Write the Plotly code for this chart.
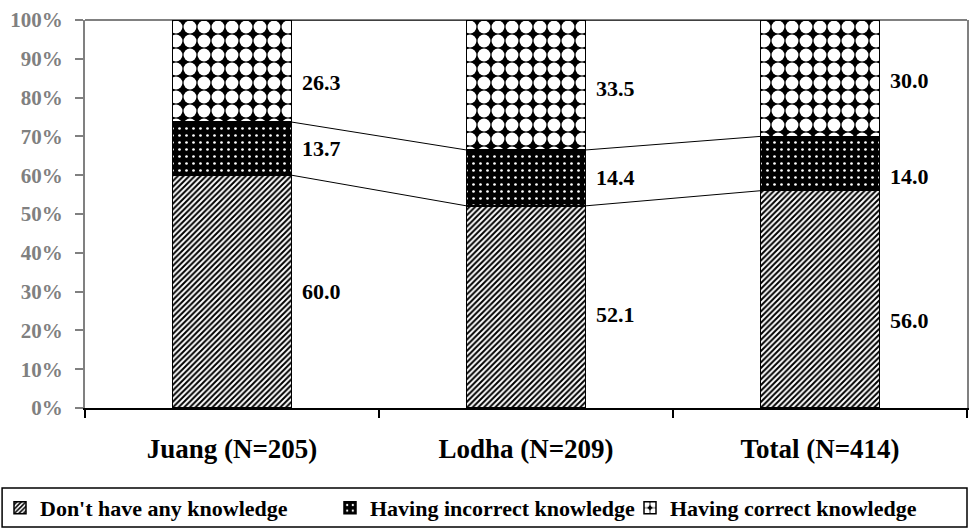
import plotly.graph_objects as go

categories = ["Juang (N=205)", "Lodha (N=209)", "Total (N=414)"]
no_knowledge = [60.0, 52.1, 56.0]
incorrect_knowledge = [13.7, 14.4, 14.0]
correct_knowledge = [26.3, 33.5, 30.0]
series_names = ["Don't have any knowledge", "Having incorrect knowledge", "Having correct knowledge"]
y_ticks = [0, 10, 20, 30, 40, 50, 60, 70, 80, 90, 100]
y_tick_text = [f"{v}%" for v in y_ticks]

# label nudges (pixels, style only) to mimic hand-placed labels
label_yshift = [[0, -8, -21], [0, 0, -13], [-11, -4, -2]]

FONT = "Liberation Serif"
BAR_W = 0.405

fig = go.Figure()
patterns = [
    dict(shape="/", fgcolor="#000000", bgcolor="#ffffff", size=4, solidity=0.5,
         fgopacity=1, fillmode="replace"),
    dict(shape=".", fgcolor="#ffffff", bgcolor="#000000", size=7, solidity=0.12,
         fgopacity=1, fillmode="replace"),
    dict(shape=".", fgcolor="#ffffff", bgcolor="#000000", size=14, solidity=0.66,
         fgopacity=1, fillmode="replace"),
]
legend_ids = ["legend", "legend2", "legend3"]
all_series = [no_knowledge, incorrect_knowledge, correct_knowledge]
for name, vals, pat, lg in zip(series_names, all_series, patterns, legend_ids):
    fig.add_trace(go.Bar(
        x=categories, y=vals, name=name, width=BAR_W, legend=lg,
        marker=dict(color="#ffffff", pattern=pat, line=dict(color="black", width=1.5)),
    ))

# data labels and series lines
shapes = []
annotations = []
cum_prev = [0, 0, 0]
for s, vals in enumerate(all_series):
    cum = [p + v for p, v in zip(cum_prev, vals)]
    for i, v in enumerate(vals):
        annotations.append(dict(
            x=i + BAR_W / 2, y=cum_prev[i] + v / 2, xref="x", yref="y",
            text=f"{v:.1f}", showarrow=False, xanchor="left", xshift=8,
            yshift=label_yshift[s][i],
            font=dict(family=FONT, size=22, color="black", weight="bold"),
        ))
    for i in range(len(categories) - 1):
        shapes.append(dict(
            type="line", xref="x", yref="y",
            x0=i + BAR_W / 2, y0=cum[i], x1=i + 1 - BAR_W / 2, y1=cum[i + 1],
            line=dict(color="black", width=1),
        ))
    cum_prev = cum

# top border of plot area
shapes.append(dict(type="line", xref="paper", yref="paper", x0=0, x1=1, y0=1, y1=1,
                   line=dict(color="#808080", width=2), layer="below"))
# legend box
shapes.append(dict(type="rect", xref="paper", yref="paper",
                   x0=-0.094, x1=1.0, y0=-0.307, y1=-0.206,
                   line=dict(color="black", width=1.5)))

legend_style = dict(orientation="h", xref="container", yref="container",
                    xanchor="left", y=0.0397, yanchor="middle",
                    font=dict(family=FONT, size=22, color="black", weight="bold"),
                    itemwidth=30, bgcolor="rgba(0,0,0,0)")

fig.update_layout(
    barmode="stack",
    width=969, height=529,
    margin=dict(l=85, r=2, t=20, b=121, autoexpand=False),
    paper_bgcolor="white", plot_bgcolor="white",
    font=dict(family=FONT, color="black"),
    showlegend=True,
    legend=dict(x=0.0, **legend_style),
    legend2=dict(x=330 / 969, **legend_style),
    legend3=dict(x=630 / 969, **legend_style),
    shapes=shapes,
    annotations=annotations,
    bargap=0.6,
)
fig.update_yaxes(
    range=[0, 100], tickmode="array", tickvals=y_ticks, ticktext=y_tick_text,
    showgrid=False, zeroline=False, automargin=False,
    showline=True, linecolor="#808080", linewidth=2, mirror=True,
    ticks="outside", ticklen=8, tickcolor="#808080", tickwidth=1.5,
    tickfont=dict(family=FONT, size=21, color="#808080", weight="bold"),
    ticklabelstandoff=8,
)
fig.update_xaxes(
    showgrid=False, showline=True, linecolor="black", linewidth=2, automargin=False,
    ticks="outside", tickson="boundaries", ticklen=8, tickcolor="black", tickwidth=1.5,
    tickfont=dict(family=FONT, size=27, color="black", weight="bold"),
    ticklabelstandoff=16,
)

fig.write_html("out.html", config={"displayModeBar": False},
               post_script="document.body.style.margin='0';")
